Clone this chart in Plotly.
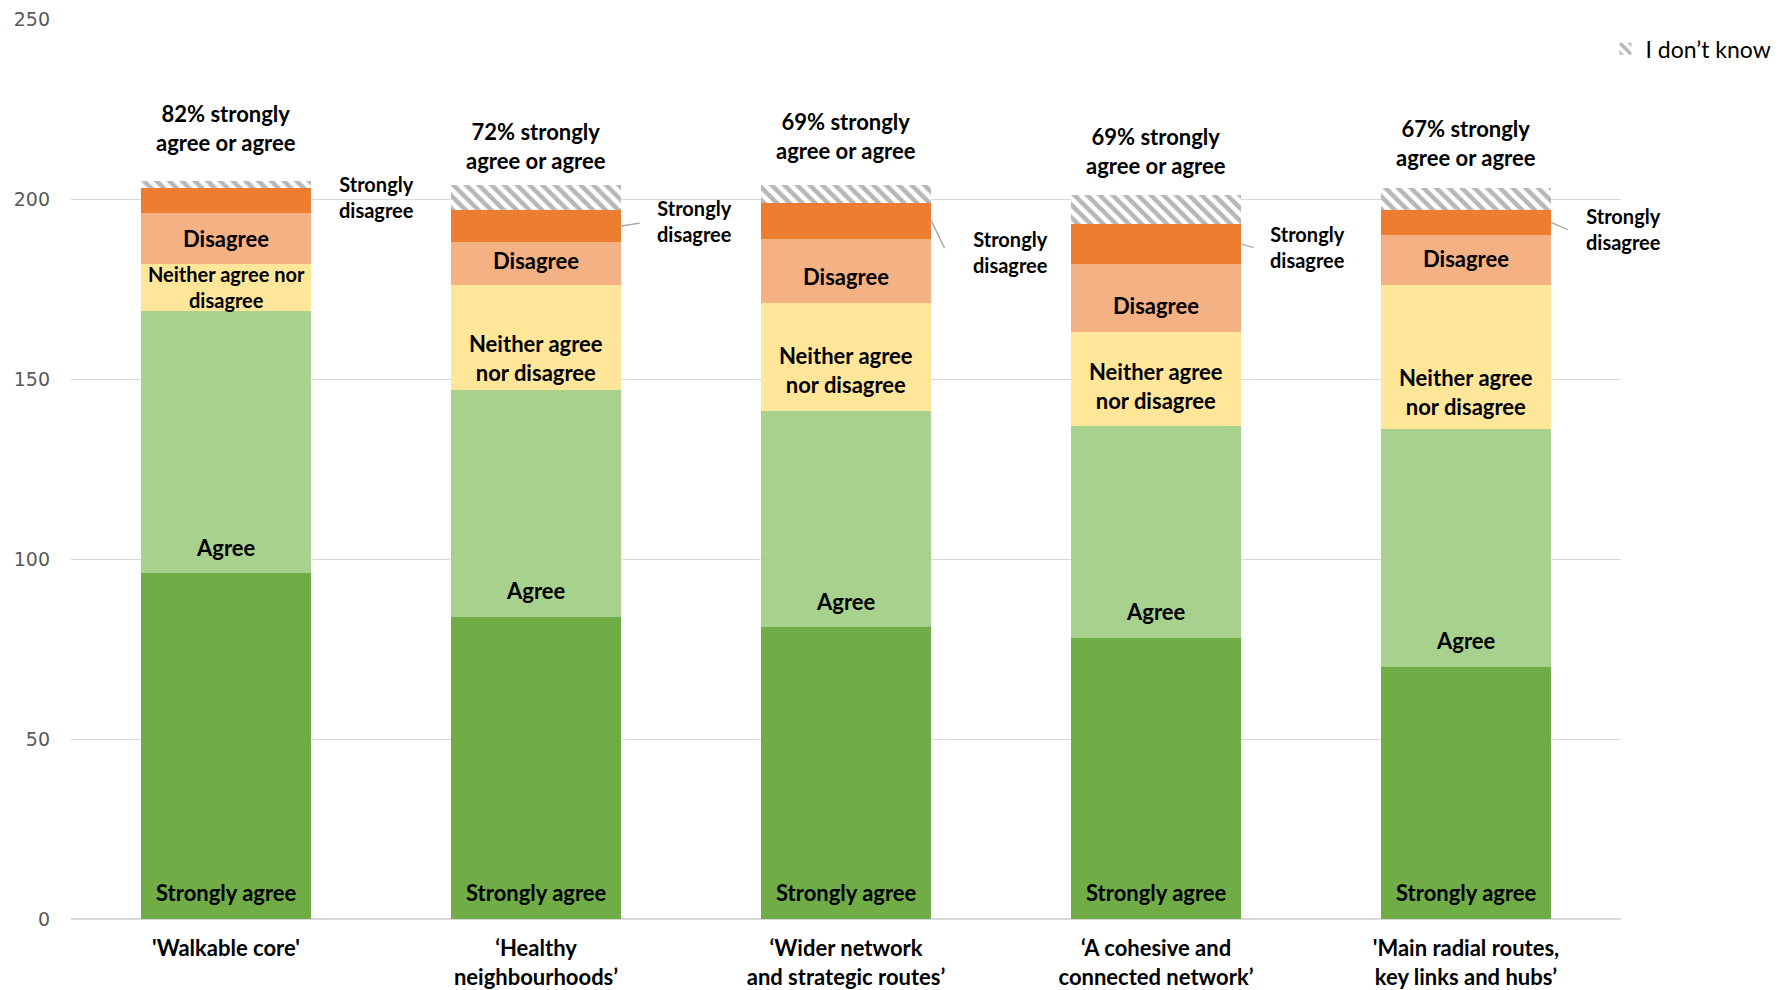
import numpy as np
import plotly.graph_objects as go

# ---------------- data ----------------
categories = ["'Walkable core'", "‘Healthy<br>neighbourhoods’", "‘Wider network<br>and strategic routes’",
              "‘A cohesive and<br>connected network’", "'Main radial routes,<br>key links and hubs’"]
strongly_agree = [96, 84, 81, 78, 70]
agree = [73, 63, 60, 59, 66]
neither = [13, 29, 30, 26, 40]
disagree = [14, 12, 18, 19, 14]
strongly_disagree = [7, 9, 10, 11, 7]
dont_know = [2, 7, 5, 8, 6]
pct_agree = [82, 72, 69, 69, 67]
y_ticks = [0, 50, 100, 150, 200, 250]

# ---------------- styling / layout helpers ----------------
colors = {"sa": "#70ad47", "a": "#a9d18e", "n": "#ffe699", "d": "#f4b183", "sd": "#ed7d31"}
pct_label_y = [219.6, 214.8, 217.4, 213.2, 215.5]
neither_dy = [0, -5.6, -3.6, -2.0, -9.6]
disagree_dy = [0, 1.0, -1.6, -2.0, 0.5]
sd_label_xshift = [65, 73, 79, 66, 72]
sd_label_dy = [1.0, 1.5, -8.6, -0.7, -1.7]
leader_show = [False, True, True, True, True]
leader_ax = [0, 20, 14, 14, 18]
leader_ay = [0, -3, 29, 4, 8]
base_offset = 7.3
bar_w = 0.55

x = list(range(len(categories)))
series = [
    ("Strongly agree", strongly_agree, colors["sa"]),
    ("Agree", agree, colors["a"]),
    ("Neither agree nor disagree", neither, colors["n"]),
    ("Disagree", disagree, colors["d"]),
    ("Strongly disagree", strongly_disagree, colors["sd"]),
]

fig = go.Figure()
for name, vals, col in series:
    fig.add_trace(go.Bar(x=x, y=vals, name=name, marker=dict(color=col, line=dict(width=0)),
                         showlegend=False, width=bar_w))
fig.add_trace(go.Bar(x=x, y=dont_know, name="I don’t know", width=bar_w,
                     marker=dict(color="white", line=dict(width=0),
                                 pattern=dict(shape="\\", fgcolor="#6f6f6f", bgcolor="white",
                                              size=9, solidity=0.5)),
                     showlegend=True))

sa = np.array(strongly_agree); ag = np.array(agree); ne = np.array(neither)
di = np.array(disagree); sd = np.array(strongly_disagree)
b_agree = sa
b_neither = sa + ag
b_dis = b_neither + ne
b_sd = b_dis + di

ann = []
lab_font = dict(family="Lato", size=22, color="black")
for i in x:
    ann.append(dict(x=i, y=base_offset, text="<b>Strongly agree</b>", showarrow=False, font=lab_font))
    ann.append(dict(x=i, y=b_agree[i] + base_offset, text="<b>Agree</b>", showarrow=False, font=lab_font))
    if i == 0:
        ann.append(dict(x=i, y=b_neither[i] + ne[i] / 2 + neither_dy[i],
                        text="<b>Neither agree nor<br>disagree</b>",
                        showarrow=False, font=dict(family="Lato", size=20, color="black")))
    else:
        ann.append(dict(x=i, y=b_neither[i] + ne[i] / 2 + neither_dy[i],
                        text="<b>Neither agree<br>nor disagree</b>", showarrow=False, font=lab_font))
    ann.append(dict(x=i, y=b_dis[i] + di[i] / 2 + disagree_dy[i], text="<b>Disagree</b>",
                    showarrow=False, font=lab_font))
    ann.append(dict(x=i, y=pct_label_y[i], text=f"<b>{pct_agree[i]}% strongly<br>agree or agree</b>",
                    showarrow=False, font=lab_font))
    sd_mid = b_sd[i] + sd[i] / 2
    ann.append(dict(x=i + bar_w / 2, y=sd_mid + sd_label_dy[i], xshift=sd_label_xshift[i],
                    text="<b>Strongly<br>disagree</b>",
                    showarrow=False, font=dict(family="Lato", size=20, color="black")))
    if leader_show[i]:
        ann.append(dict(x=i + bar_w / 2, y=sd_mid, text="", showarrow=True, arrowhead=0,
                        arrowwidth=1.3, arrowcolor="#a6a6a6", ax=leader_ax[i], ay=leader_ay[i],
                        standoff=0, startstandoff=0))

fig.update_layout(
    barmode="stack",
    bargap=0.45,
    width=1787, height=990,
    margin=dict(l=71, r=166, t=19, b=71, autoexpand=False),
    plot_bgcolor="white", paper_bgcolor="white",
    font=dict(family="Lato", color="black"),
    annotations=ann,
    legend=dict(x=0.99, xanchor="left", y=0.967, yanchor="middle",
                font=dict(family="Lato", size=23, color="black"), bgcolor="rgba(0,0,0,0)"),
    xaxis=dict(tickmode="array", tickvals=x, ticktext=[f"<b>{c}</b>" for c in categories],
               tickfont=dict(family="Lato", size=22, color="black"),
               range=[-0.5, len(categories) - 0.5], showgrid=False, showline=False,
               ticks="outside", ticklen=10, tickcolor="rgba(0,0,0,0)", automargin=False),
    yaxis=dict(range=[0, 250], tickvals=y_ticks, showgrid=True, gridcolor="#d9d9d9", gridwidth=1,
               zeroline=True, zerolinecolor="#d9d9d9", zerolinewidth=1.5, showline=False,
               tickfont=dict(family="DejaVu Sans", size=19, color="#595959"),
               ticklabelstandoff=20, automargin=False),
)

fig.write_html("out.html")
